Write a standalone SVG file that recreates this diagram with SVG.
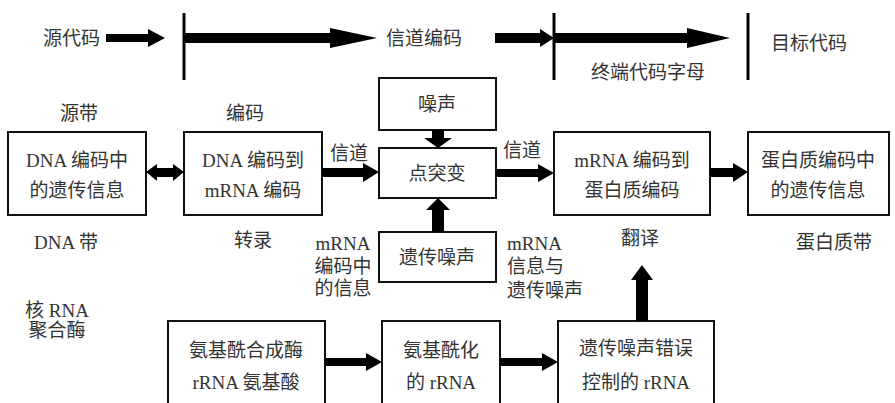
<svg xmlns="http://www.w3.org/2000/svg" width="895" height="403" viewBox="0 0 895 403">
<style>
.box{fill:#fff;stroke:#111;stroke-width:2}
.t{font-family:"Liberation Serif","Noto Sans CJK SC",serif;font-size:19px;fill:#333;text-anchor:middle;dominant-baseline:central}
.tl{font-family:"Liberation Serif","Noto Sans CJK SC",serif;font-size:19px;fill:#333;dominant-baseline:central}
.ar{fill:#000}
.bar{stroke:#000;stroke-width:3}
</style>
<rect width="895" height="403" fill="#fff"/>
<g id="timeline">
<text class="tl" x="43" y="38">源代码</text>
<text class="tl" x="386" y="38">信道编码</text>
<text class="tl" x="771" y="43">目标代码</text>
<text class="tl" x="591" y="72">终端代码字母</text>
<line class="bar" x1="184" y1="13" x2="184" y2="80"/>
<line class="bar" x1="554" y1="13" x2="554" y2="80"/>
<line class="bar" x1="748" y1="13" x2="748" y2="80"/>
</g>
<g id="labels">
<text class="t" x="79" y="113">源带</text>
<text class="t" x="245" y="113">编码</text>
<text class="t" x="66" y="242">DNA 带</text>
<text class="t" x="253" y="240">转录</text>
<text class="t" x="640" y="238">翻译</text>
<text class="t" x="834" y="242">蛋白质带</text>
<text class="t" x="349" y="153">信道</text>
<text class="t" x="522" y="150">信道</text>
<text class="t" x="343" y="243">mRNA</text>
<text class="t" x="343" y="266">编码中</text>
<text class="t" x="343" y="288">的信息</text>
<text class="tl" x="507" y="243">mRNA</text>
<text class="tl" x="507" y="266">信息与</text>
<text class="tl" x="507" y="290">遗传噪声</text>
<text class="t" x="57" y="310">核 RNA</text>
<text class="t" x="57" y="330">聚合酶</text>
</g>
<g id="n1"><rect class="box" x="8" y="132" width="138" height="83"/><text class="t" x="77" y="160">DNA 编码中</text><text class="t" x="77" y="190">的遗传信息</text></g>
<g id="n2"><rect class="box" x="184" y="132" width="138" height="83"/><text class="t" x="253" y="160">DNA 编码到</text><text class="t" x="253" y="190">mRNA 编码</text></g>
<g id="n3"><rect class="box" x="379" y="78" width="117" height="52"/><text class="t" x="437" y="104">噪声</text></g>
<g id="n4"><rect class="box" x="379" y="148" width="117" height="50"/><text class="t" x="437" y="173">点突变</text></g>
<g id="n5"><rect class="box" x="379" y="232" width="117" height="50"/><text class="t" x="437" y="257">遗传噪声</text></g>
<g id="n6"><rect class="box" x="554" y="132" width="156" height="83"/><text class="t" x="632" y="160">mRNA 编码到</text><text class="t" x="632" y="190">蛋白质编码</text></g>
<g id="n7"><rect class="box" x="748" y="132" width="141" height="83"/><text class="t" x="818" y="160">蛋白质编码中</text><text class="t" x="818" y="190">的遗传信息</text></g>
<g id="n8"><rect class="box" x="168" y="321" width="157" height="100"/><text class="t" x="246" y="350">氨基酰合成酶</text><text class="t" x="246" y="382">rRNA 氨基酸</text></g>
<g id="n9"><rect class="box" x="382" y="321" width="118" height="100"/><text class="t" x="441" y="350">氨基酰化</text><text class="t" x="441" y="382">的 rRNA</text></g>
<g id="n10"><rect class="box" x="558" y="321" width="156" height="100"/><text class="t" x="636" y="348">遗传噪声错误</text><text class="t" x="636" y="382">控制的 rRNA</text></g>
<g id="connectors">
<polygon class="ar" points="106,34 148,34 148,29 165,38 148,47 148,42 106,42"/>
<polygon class="ar" points="184,33 330,33 330,28 377,38 330,48 330,43 184,43"/>
<polygon class="ar" points="495,33 540,33 540,29 554,38 540,47 540,43 495,43"/>
<polygon class="ar" points="554,33 687,33 687,28 730,38 687,48 687,43 554,43"/>
<polygon class="ar" points="146,172 157,164 157,168 173,168 173,164 184,172 173,181 173,177 157,177 157,181"/>
<polygon class="ar" points="322,168 363,168 363,163 379,172 363,182 363,177 322,177"/>
<polygon class="ar" points="496,169 538,169 538,164 554,173 538,182 538,177 496,177"/>
<polygon class="ar" points="710,168 733,168 733,163 748,172 733,182 733,177 710,177"/>
<polygon class="ar" points="432,130 444,130 444,138 452,138 438,148 424,138 432,138"/>
<polygon class="ar" points="432,232 444,232 444,210 450,210 438,198 426,210 432,210"/>
<polygon class="ar" points="325,358 366,358 366,353 382,362 366,371 366,366 325,366"/>
<polygon class="ar" points="500,358 542,358 542,353 558,362 542,371 542,366 500,366"/>
<polygon class="ar" points="636,321 648,321 648,280 653,280 642,265 631,280 636,280"/>
</g>
</svg>
